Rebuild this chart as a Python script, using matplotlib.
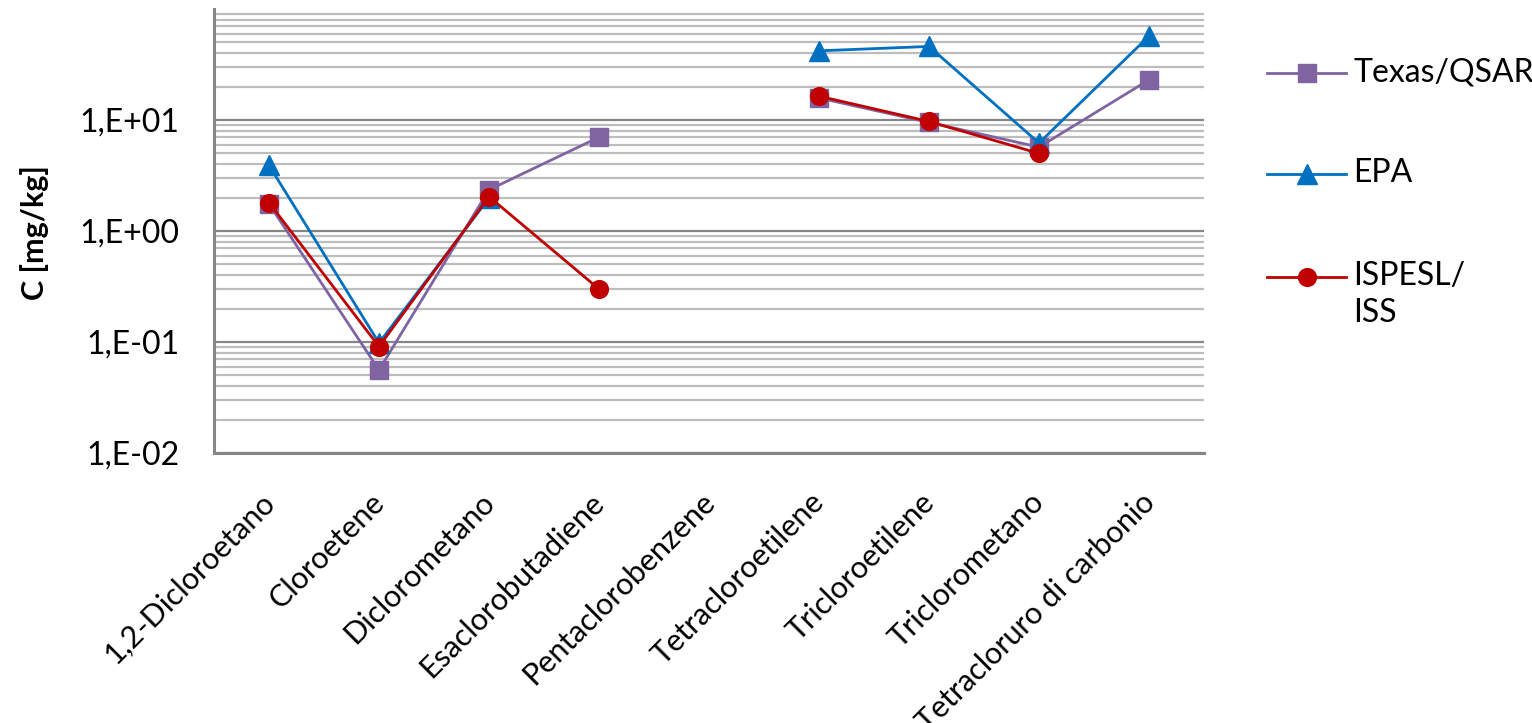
import numpy as np
import matplotlib
matplotlib.use("Agg")
import matplotlib.pyplot as plt
from matplotlib.lines import Line2D
from matplotlib.ticker import FixedLocator, FixedFormatter, NullFormatter
import matplotlib.transforms as mtransforms

plt.rcParams['font.family'] = ['Lato', 'DejaVu Sans']

# ---- data -------------------------------------------------------------
categories = [
    "1,2-Dicloroetano", "Cloroetene", "Diclorometano", "Esaclorobutadiene",
    "Pentaclorobenzene", "Tetracloroetilene", "Tricloroetilene",
    "Triclorometano", "Tetracloruro di carbonio",
]
nan = np.nan
texas_qsar = [1.75, 0.056, 2.35, 7.0, nan, 15.8, 9.5, 5.7, 23.0]
epa        = [3.9, 0.098, 1.98, nan, nan, 42.0, 46.0, 6.2, 57.0]
ispesl_iss = [1.8, 0.091, 2.04, 0.30, nan, 16.4, 9.7, 5.0, nan]

series_names = ["Texas/QSAR", "EPA", "ISPESL/\nISS"]
ytick_values = [1e-2, 1e-1, 1e0, 1e1]
ytick_labels = ["1,E-02", "1,E-01", "1,E+00", "1,E+01"]

# ---- styles -----------------------------------------------------------
colors = ["#8064A2", "#0070C0", "#C00000"]
markers = ["s", "^", "o"]
msizes = [13, 14.5, 12.8]

W, H = 1532, 723
fig = plt.figure(figsize=(W / 100, H / 100), dpi=100)
ax = fig.add_axes([214 / W, 1 - 453 / H, (1204 - 214) / W, (453 - 9) / H])

x = np.arange(len(categories))
for vals, c, m, ms in zip([texas_qsar, epa, ispesl_iss], colors, markers, msizes):
    ax.plot(x, vals, color=c, lw=2.0, marker=m, ms=ms, mec=c, mfc=c,
            solid_joinstyle='round', zorder=3)

ax.set_yscale('log')
ax.set_ylim(1e-2, 1e2)
ax.set_xlim(-0.5, len(categories) - 0.5)

# y axis ticks and grid
ax.yaxis.set_major_locator(FixedLocator(ytick_values))
ax.yaxis.set_major_formatter(FixedFormatter(ytick_labels))
minor = [m * 10.0 ** e for e in range(-2, 2) for m in range(2, 10)]
ax.yaxis.set_minor_locator(FixedLocator(minor))
ax.yaxis.set_minor_formatter(NullFormatter())
ax.grid(True, which='major', axis='y', color='#868686', lw=1.6, zorder=0)
ax.grid(True, which='minor', axis='y', color='#BDBDBD', lw=1.6, zorder=0)
ax.set_axisbelow(True)
ax.tick_params(axis='y', which='both', length=0, pad=25, labelsize=23,
               labelcolor='#000000')

# x axis category labels
ax.set_xticks(x)
ax.set_xticklabels(categories, fontsize=22, rotation=45, ha='right',
                   va='top', rotation_mode='anchor')
ax.tick_params(axis='x', length=0, pad=25)
offset = mtransforms.ScaledTranslation(-9 / 100, 0, fig.dpi_scale_trans)
for lab in ax.get_xticklabels():
    lab.set_transform(lab.get_transform() + offset)

for side in ['top', 'right']:
    ax.spines[side].set_visible(False)
for side in ['left', 'bottom']:
    ax.spines[side].set_color('#868686')
    ax.spines[side].set_linewidth(2.2)

fig.text(35 / W, 1 - 233 / H, "C [mg/kg]", rotation=90, ha='center',
         va='center', fontsize=22, fontweight='bold')

# legend drawn at the right of the plot area
legend_y = [73, 174, 277]
for name, c, m, ms, yy in zip(series_names, colors, markers, msizes, legend_y):
    fy = 1 - yy / H
    fig.add_artist(Line2D([1267 / W, 1346 / W], [fy, fy], color=c, lw=2.0,
                          transform=fig.transFigure))
    fig.add_artist(Line2D([1306.5 / W], [fy], color=c, marker=m, ms=ms,
                          mec=c, mfc=c, transform=fig.transFigure))
    fig.text(1353 / W, 1 - (yy - 16) / H, name, ha='left', va='top',
             fontsize=23, linespacing=1.3, transform=fig.transFigure)

fig.savefig("out.png", dpi=100)
